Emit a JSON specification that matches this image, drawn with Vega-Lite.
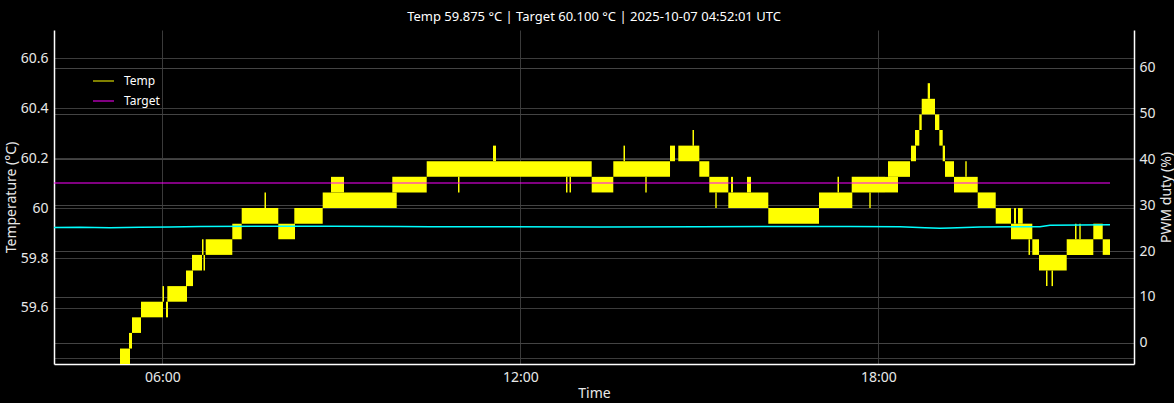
{
  "$schema": "https://vega.github.io/schema/vega-lite/v6.json",
  "width": 1080,
  "height": 334,
  "autosize": {"type": "none"},
  "padding": {"left": 54, "top": 30, "right": 40, "bottom": 39},
  "background": "#000000",
  "title": {
    "text": "Temp 59.875 °C | Target 60.100 °C | 2025-10-07 04:52:01 UTC",
    "color": "#ffffff",
    "font": "Noto Sans",
    "fontSize": 13,
    "fontWeight": "normal",
    "anchor": "middle",
    "baseline": "alphabetic",
    "offset": 10,
    "dy": 14
  },
  "config": {
    "view": {"stroke": null},
    "axis": {
      "labelFont": "Noto Sans",
      "titleFont": "Noto Sans",
      "labelFontSize": 14,
      "titleFontSize": 14,
      "labelColor": "#e8e8e8",
      "titleColor": "#e8e8e8",
      "titleFontWeight": "normal",
      "domainColor": "#ffffff",
      "domainWidth": 1.5,
      "ticks": false,
      "gridColor": "#3c3c3c",
      "gridWidth": 1
    }
  },
  "datasets": {
    "temp": [
      {"t0": "2025-10-06T05:17:28", "t1": "2025-10-06T05:27:31", "lo": 59.375, "hi": 59.4375},
      {"t0": "2025-10-06T05:26:31", "t1": "2025-10-06T05:29:32", "lo": 59.4375, "hi": 59.5},
      {"t0": "2025-10-06T05:29:32", "t1": "2025-10-06T05:38:35", "lo": 59.5, "hi": 59.5625},
      {"t0": "2025-10-06T05:38:35", "t1": "2025-10-06T06:00:42", "lo": 59.5625, "hi": 59.625},
      {"t0": "2025-10-06T06:00:12", "t1": "2025-10-06T06:01:43", "lo": 59.625, "hi": 59.6875},
      {"t0": "2025-10-06T06:03:43", "t1": "2025-10-06T06:05:44", "lo": 59.5625, "hi": 59.625},
      {"t0": "2025-10-06T06:05:02", "t1": "2025-10-06T06:24:50", "lo": 59.625, "hi": 59.6875},
      {"t0": "2025-10-06T06:23:50", "t1": "2025-10-06T06:30:52", "lo": 59.6875, "hi": 59.75},
      {"t0": "2025-10-06T06:29:52", "t1": "2025-10-06T06:39:55", "lo": 59.75, "hi": 59.8125},
      {"t0": "2025-10-06T06:39:55", "t1": "2025-10-06T06:41:26", "lo": 59.8125, "hi": 59.875},
      {"t0": "2025-10-06T06:41:26", "t1": "2025-10-06T06:42:56", "lo": 59.75, "hi": 59.8125},
      {"t0": "2025-10-06T06:43:38", "t1": "2025-10-06T07:10:23", "lo": 59.8125, "hi": 59.875},
      {"t0": "2025-10-06T07:10:23", "t1": "2025-10-06T07:19:50", "lo": 59.875, "hi": 59.9375},
      {"t0": "2025-10-06T07:19:50", "t1": "2025-10-06T07:56:38", "lo": 59.9375, "hi": 60.0},
      {"t0": "2025-10-06T07:42:46", "t1": "2025-10-06T07:44:16", "lo": 60.0, "hi": 60.0625},
      {"t0": "2025-10-06T07:56:38", "t1": "2025-10-06T08:13:26", "lo": 59.875, "hi": 59.9375},
      {"t0": "2025-10-06T08:12:44", "t1": "2025-10-06T08:41:17", "lo": 59.9375, "hi": 60.0},
      {"t0": "2025-10-06T08:41:17", "t1": "2025-10-06T09:55:42", "lo": 60.0, "hi": 60.0625},
      {"t0": "2025-10-06T08:49:38", "t1": "2025-10-06T09:02:42", "lo": 60.0625, "hi": 60.125},
      {"t0": "2025-10-06T09:51:16", "t1": "2025-10-06T10:25:52", "lo": 60.0625, "hi": 60.125},
      {"t0": "2025-10-06T10:25:52", "t1": "2025-10-06T13:11:46", "lo": 60.125, "hi": 60.1875},
      {"t0": "2025-10-06T10:57:20", "t1": "2025-10-06T10:58:50", "lo": 60.0625, "hi": 60.125},
      {"t0": "2025-10-06T11:32:32", "t1": "2025-10-06T11:35:33", "lo": 60.1875, "hi": 60.25},
      {"t0": "2025-10-06T12:45:56", "t1": "2025-10-06T12:47:26", "lo": 60.0625, "hi": 60.125},
      {"t0": "2025-10-06T12:49:27", "t1": "2025-10-06T12:50:58", "lo": 60.0625, "hi": 60.125},
      {"t0": "2025-10-06T13:11:46", "t1": "2025-10-06T13:33:29", "lo": 60.0625, "hi": 60.125},
      {"t0": "2025-10-06T13:33:29", "t1": "2025-10-06T14:30:31", "lo": 60.125, "hi": 60.1875},
      {"t0": "2025-10-06T13:43:45", "t1": "2025-10-06T13:45:16", "lo": 60.1875, "hi": 60.25},
      {"t0": "2025-10-06T14:05:40", "t1": "2025-10-06T14:07:05", "lo": 60.0625, "hi": 60.125},
      {"t0": "2025-10-06T14:30:31", "t1": "2025-10-06T14:35:32", "lo": 60.1875, "hi": 60.25},
      {"t0": "2025-10-06T14:38:51", "t1": "2025-10-06T14:59:58", "lo": 60.1875, "hi": 60.25},
      {"t0": "2025-10-06T14:53:08", "t1": "2025-10-06T14:54:38", "lo": 60.25, "hi": 60.3125},
      {"t0": "2025-10-06T14:59:58", "t1": "2025-10-06T15:10:01", "lo": 60.125, "hi": 60.1875},
      {"t0": "2025-10-06T15:10:01", "t1": "2025-10-06T15:29:08", "lo": 60.0625, "hi": 60.125},
      {"t0": "2025-10-06T15:16:04", "t1": "2025-10-06T15:17:28", "lo": 60.0, "hi": 60.0625},
      {"t0": "2025-10-06T15:31:50", "t1": "2025-10-06T15:33:52", "lo": 60.0625, "hi": 60.125},
      {"t0": "2025-10-06T15:47:56", "t1": "2025-10-06T15:51:58", "lo": 60.0625, "hi": 60.125},
      {"t0": "2025-10-06T15:29:08", "t1": "2025-10-06T16:09:21", "lo": 60.0, "hi": 60.0625},
      {"t0": "2025-10-06T16:09:21", "t1": "2025-10-06T17:00:20", "lo": 59.9375, "hi": 60.0},
      {"t0": "2025-10-06T17:00:20", "t1": "2025-10-06T17:33:49", "lo": 60.0, "hi": 60.0625},
      {"t0": "2025-10-06T17:18:56", "t1": "2025-10-06T17:20:26", "lo": 60.0625, "hi": 60.125},
      {"t0": "2025-10-06T17:33:13", "t1": "2025-10-06T18:06:42", "lo": 60.0625, "hi": 60.125},
      {"t0": "2025-10-06T17:50:55", "t1": "2025-10-06T17:52:19", "lo": 60.0, "hi": 60.0625},
      {"t0": "2025-10-06T18:06:42", "t1": "2025-10-06T18:19:46", "lo": 60.0625, "hi": 60.125},
      {"t0": "2025-10-06T18:09:43", "t1": "2025-10-06T18:31:50", "lo": 60.125, "hi": 60.1875},
      {"t0": "2025-10-06T18:32:50", "t1": "2025-10-06T18:37:52", "lo": 60.1875, "hi": 60.25},
      {"t0": "2025-10-06T18:36:52", "t1": "2025-10-06T18:41:11", "lo": 60.25, "hi": 60.3125},
      {"t0": "2025-10-06T18:41:11", "t1": "2025-10-06T18:43:36", "lo": 60.3125, "hi": 60.375},
      {"t0": "2025-10-06T18:43:36", "t1": "2025-10-06T18:56:58", "lo": 60.375, "hi": 60.4375},
      {"t0": "2025-10-06T18:49:38", "t1": "2025-10-06T18:51:57", "lo": 60.4375, "hi": 60.5},
      {"t0": "2025-10-06T18:56:58", "t1": "2025-10-06T19:01:18", "lo": 60.3125, "hi": 60.375},
      {"t0": "2025-10-06T19:01:18", "t1": "2025-10-06T19:04:43", "lo": 60.25, "hi": 60.3125},
      {"t0": "2025-10-06T19:04:43", "t1": "2025-10-06T19:07:02", "lo": 60.1875, "hi": 60.25},
      {"t0": "2025-10-06T19:07:02", "t1": "2025-10-06T19:16:05", "lo": 60.125, "hi": 60.1875},
      {"t0": "2025-10-06T19:16:05", "t1": "2025-10-06T19:39:55", "lo": 60.0625, "hi": 60.125},
      {"t0": "2025-10-06T19:27:26", "t1": "2025-10-06T19:28:51", "lo": 60.125, "hi": 60.1875},
      {"t0": "2025-10-06T19:39:55", "t1": "2025-10-06T19:58:01", "lo": 60.0, "hi": 60.0625},
      {"t0": "2025-10-06T19:58:01", "t1": "2025-10-06T20:13:23", "lo": 59.9375, "hi": 60.0},
      {"t0": "2025-10-06T20:13:23", "t1": "2025-10-06T20:34:49", "lo": 59.875, "hi": 59.9375},
      {"t0": "2025-10-06T20:16:25", "t1": "2025-10-06T20:18:25", "lo": 59.9375, "hi": 60.0},
      {"t0": "2025-10-06T20:20:26", "t1": "2025-10-06T20:25:10", "lo": 59.9375, "hi": 60.0},
      {"t0": "2025-10-06T20:30:59", "t1": "2025-10-06T20:32:30", "lo": 59.8125, "hi": 59.875},
      {"t0": "2025-10-06T20:34:49", "t1": "2025-10-06T20:41:33", "lo": 59.8125, "hi": 59.875},
      {"t0": "2025-10-06T20:41:33", "t1": "2025-10-06T21:09:24", "lo": 59.75, "hi": 59.8125},
      {"t0": "2025-10-06T20:48:35", "t1": "2025-10-06T20:50:05", "lo": 59.6875, "hi": 59.75},
      {"t0": "2025-10-06T20:54:07", "t1": "2025-10-06T20:55:38", "lo": 59.6875, "hi": 59.75},
      {"t0": "2025-10-06T21:09:24", "t1": "2025-10-06T21:36:09", "lo": 59.8125, "hi": 59.875},
      {"t0": "2025-10-06T21:17:45", "t1": "2025-10-06T21:19:16", "lo": 59.875, "hi": 59.9375},
      {"t0": "2025-10-06T21:22:04", "t1": "2025-10-06T21:23:29", "lo": 59.875, "hi": 59.9375},
      {"t0": "2025-10-06T21:36:09", "t1": "2025-10-06T21:45:36", "lo": 59.875, "hi": 59.9375},
      {"t0": "2025-10-06T21:45:36", "t1": "2025-10-06T21:52:56", "lo": 59.8125, "hi": 59.875}
    ],
    "target": [
      {"t0": "2025-10-06T04:11:06", "t1": "2025-10-06T21:52:56", "target": 60.1, "series": "Target"}
    ],
    "pwm": [
      {"t": "2025-10-06T04:11:06", "pwm": 25.15},
      {"t": "2025-10-06T04:37:14", "pwm": 25.2},
      {"t": "2025-10-06T05:07:25", "pwm": 25.1},
      {"t": "2025-10-06T05:37:35", "pwm": 25.2},
      {"t": "2025-10-06T06:07:44", "pwm": 25.25},
      {"t": "2025-10-06T06:37:55", "pwm": 25.35},
      {"t": "2025-10-06T07:38:14", "pwm": 25.4},
      {"t": "2025-10-06T08:48:38", "pwm": 25.4},
      {"t": "2025-10-06T09:59:01", "pwm": 25.38},
      {"t": "2025-10-06T10:29:11", "pwm": 25.3},
      {"t": "2025-10-06T11:39:34", "pwm": 25.28},
      {"t": "2025-10-06T13:20:07", "pwm": 25.27},
      {"t": "2025-10-06T15:00:40", "pwm": 25.3},
      {"t": "2025-10-06T16:11:04", "pwm": 25.38},
      {"t": "2025-10-06T17:31:30", "pwm": 25.35},
      {"t": "2025-10-06T18:21:47", "pwm": 25.3},
      {"t": "2025-10-06T18:46:55", "pwm": 25.1},
      {"t": "2025-10-06T19:02:00", "pwm": 24.98},
      {"t": "2025-10-06T19:12:04", "pwm": 25.05},
      {"t": "2025-10-06T19:42:13", "pwm": 25.25},
      {"t": "2025-10-06T20:42:33", "pwm": 25.3},
      {"t": "2025-10-06T20:52:37", "pwm": 25.65},
      {"t": "2025-10-06T21:52:56", "pwm": 25.72}
    ]
  },
  "layer": [
    {
      "layer": [
        {
          "data": {"name": "temp"},
          "mark": {"type": "rect", "color": "#ffff00", "clip": true},
          "encoding": {
            "x": {
              "field": "t0", "type": "temporal",
              "scale": {"domain": [
                {"year": 2025, "month": 10, "date": 6, "hours": 4, "minutes": 11, "seconds": 6},
                {"year": 2025, "month": 10, "date": 6, "hours": 22, "minutes": 17, "seconds": 4}
              ]},
              "axis": {
                "title": "Time",
                "format": "%H:%M",
                "values": [
                  {"year": 2025, "month": 10, "date": 6, "hours": 6},
                  {"year": 2025, "month": 10, "date": 6, "hours": 12},
                  {"year": 2025, "month": 10, "date": 6, "hours": 18}
                ],
                "grid": true,
                "gridColor": "#3a3a3a",
                "labelPadding": 6,
                "titlePadding": 2
              }
            },
            "x2": {"field": "t1"},
            "y": {
              "field": "lo", "type": "quantitative",
              "scale": {"domain": [59.3756, 60.713], "nice": false, "zero": false},
              "axis": {
                "title": "Temperature (°C)",
                "values": [59.4, 59.6, 59.8, 60, 60.2, 60.4, 60.6],
                "format": "~g",
                "labelExpr": "datum.value < 59.5 ? '' : datum.label",
                "grid": true,
                "gridColor": "#3c3c3c",
                "labelPadding": 6,
                "titlePadding": 2
              }
            },
            "y2": {"field": "hi"}
          }
        },
        {
          "data": {"name": "target"},
          "mark": {"type": "rule", "strokeWidth": 2, "opacity": 0.5, "clip": true},
          "encoding": {
            "x": {"field": "t0", "type": "temporal"},
            "x2": {"field": "t1"},
            "y": {"field": "target", "type": "quantitative"},
            "color": {
              "field": "series", "type": "nominal",
              "scale": {"domain": ["Temp", "Target"], "range": ["#ffff00", "#ff00ff"]},
              "legend": {
                "orient": "none",
                "legendX": 38,
                "legendY": 39.5,
                "title": null,
                "symbolType": "stroke",
                "symbolSize": 441,
                "symbolStrokeWidth": 2,
                "symbolOpacity": 0.5,
                "labelColor": "#ffffff",
                "labelFont": "Noto Sans",
                "labelFontSize": 12,
                "labelOffset": 9,
                "rowPadding": 2,
                "padding": 0
              }
            }
          }
        }
      ]
    },
    {
      "data": {"name": "pwm"},
      "mark": {"type": "line", "color": "#00ffff", "strokeWidth": 1.5, "clip": true},
      "encoding": {
        "x": {"field": "t", "type": "temporal"},
        "y": {
          "field": "pwm", "type": "quantitative",
          "scale": {"domain": [-4.64, 68.22], "nice": false, "zero": false},
          "axis": {
            "orient": "right",
            "title": "PWM duty (%)",
            "titleAngle": 270,
            "titleBaseline": "top",
            "values": [0, 10, 20, 30, 40, 50, 60],
            "format": "d",
            "grid": true,
            "gridColor": "#444444",
            "labelPadding": 5,
            "titlePadding": 4
          }
        }
      }
    }
  ],
  "resolve": {"scale": {"y": "independent"}}
}
